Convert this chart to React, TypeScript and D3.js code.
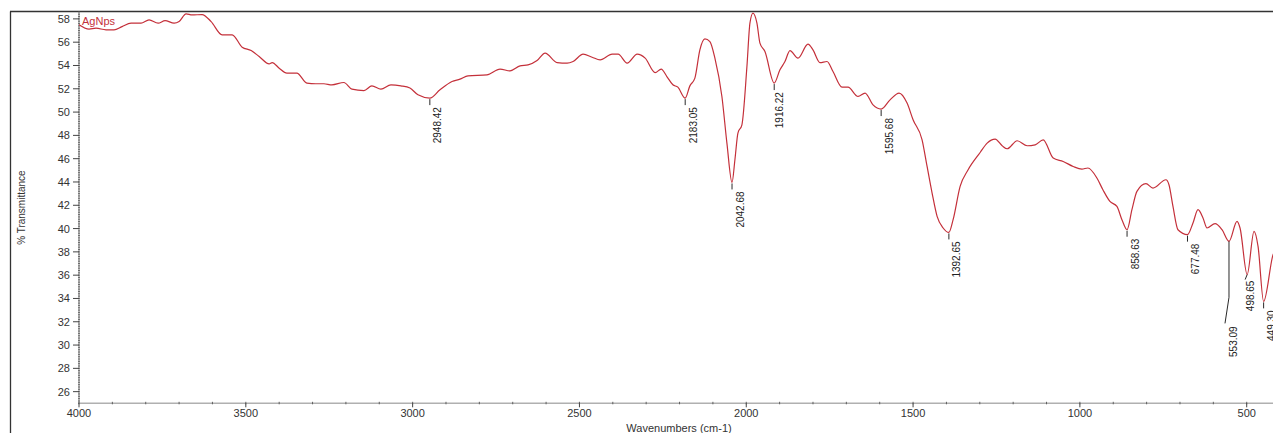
import React from "react";
import * as d3 from "d3";

// ---- data ----
const wavenumbers: number[] = [
  4000, 3970, 3949, 3919, 3895, 3871, 3844, 3814, 3790, 3763, 3742, 3715, 3700, 3679, 3661, 3631, 3604, 3571, 3541, 3511,
  3484, 3460, 3430, 3421, 3400, 3377, 3347, 3317, 3290, 3266, 3242, 3206, 3182, 3146, 3122, 3095, 3065, 3035, 3008, 2984,
  2948.42, 2918, 2882, 2858, 2834, 2777, 2738, 2708, 2678, 2654, 2627, 2603, 2567, 2537, 2519, 2489, 2462, 2438, 2402, 2384,
  2357, 2327, 2303, 2273, 2255, 2238, 2220, 2205, 2183.05, 2169, 2154, 2139, 2124, 2109, 2094, 2073, 2058, 2042.68, 2034, 2025,
  2013, 1998, 1989, 1980, 1968, 1959, 1944, 1916.22, 1899, 1884, 1869, 1845, 1815, 1800, 1779, 1758, 1740, 1713, 1695, 1665,
  1644, 1620, 1595.68, 1569, 1542, 1518, 1500, 1473, 1458, 1443, 1428, 1410, 1392.65, 1380, 1359, 1335, 1299, 1278, 1254, 1233,
  1218, 1188, 1158, 1134, 1110, 1080, 1050, 1020, 994, 976, 949, 931, 910, 889, 874, 858.63, 844, 829, 802, 781,
  742, 733, 721, 706, 677.48, 661, 646, 631, 619, 595, 574, 553.09, 529, 520, 498.65, 478, 466, 449.3, 421, 405,
];
const transmittance: number[] = [
  57.49, 57.12, 57.2, 57.06, 57.06, 57.34, 57.63, 57.63, 57.91, 57.63, 57.85, 57.63, 57.77, 58.43, 58.34, 58.37, 57.77, 56.63, 56.63, 55.57,
  55.28, 54.77, 54.14, 54.25, 53.77, 53.34, 53.34, 52.49, 52.43, 52.43, 52.34, 52.54, 51.97, 51.85, 52.25, 51.97, 52.34, 52.25, 52.06, 51.48,
  51.2, 51.91, 52.62, 52.83, 53.11, 53.2, 53.69, 53.54, 53.97, 54.05, 54.42, 55.06, 54.25, 54.2, 54.34, 54.97, 54.71, 54.48, 54.97, 54.97,
  54.2, 54.97, 54.63, 53.39, 53.69, 53.05, 52.34, 52.14, 51.2, 52.25, 52.91, 55.34, 56.28, 56.05, 54.63, 51.34, 47.34, 43.96, 45.91, 48.2,
  48.91, 53.91, 57.63, 58.49, 57.63, 55.92, 55.2, 52.49, 53.63, 54.34, 55.28, 54.63, 55.83, 55.34, 54.25, 54.34, 53.48, 52.14, 52.14, 51.34,
  51.63, 50.62, 50.26, 51.05, 51.63, 50.77, 49.34, 47.62, 45.33, 43.05, 41.05, 40.05, 39.67, 40.76, 43.62, 45.05, 46.53, 47.34, 47.68, 47.11,
  46.85, 47.54, 47.11, 47.19, 47.62, 46.05, 45.76, 45.33, 45.11, 45.2, 44.34, 43.33, 42.33, 41.9, 40.76, 39.9, 41.62, 43.19, 43.85, 43.48,
  44.19, 43.76, 41.9, 39.9, 39.48, 40.48, 41.62, 40.91, 40.05, 40.42, 39.9, 38.9, 40.62, 40.05, 36.05, 39.76, 38.47, 33.75, 37.76, 38.5,
];
const peakWavenumbers: number[] = [2948.42, 2183.05, 2042.68, 1916.22, 1595.68, 1392.65, 858.63, 677.48, 553.09, 498.65, 449.3];
const peakLabels: string[] = ["2948.42", "2183.05", "2042.68", "1916.22", "1595.68", "1392.65", "858.63", "677.48", "553.09", "498.65", "449.30"];
const yTicks: number[] = [26, 28, 30, 32, 34, 36, 38, 40, 42, 44, 46, 48, 50, 52, 54, 56, 58];
const xTicks: number[] = [4000, 3500, 3000, 2500, 2000, 1500, 1000, 500];
const seriesName = "AgNps";
const xTitle = "Wavenumbers (cm-1)";
const yTitle = "% Transmittance";

const W = 1273;
const H = 433;
const FONT = "Arial, 'Liberation Sans', sans-serif";
const RED = "#c4303a";

export default function App() {
  const left = 79;
  const top = 11.9;
  const bottom = 403.3;
  const x = d3.scaleLinear().domain([4000, 400]).range([left, left + 3600 * 0.33363]);
  const y = d3.scaleLinear().domain([25, 58.6]).range([bottom, top]);

  const pts: [number, number][] = wavenumbers.map((w, i) => [w, transmittance[i]]);
  const line = d3
    .line<[number, number]>()
    .x((d) => x(d[0]))
    .y((d) => y(d[1]))
    .curve(d3.curveMonotoneX);
  // monotoneX requires increasing x in pixel space: data sorted by decreasing wn -> increasing px
  const path = line(pts) || "";

  const yMinor = d3.range(25, 58.61, 0.2);
  const xMinor = d3.range(4000, 399, -100);

  const valueAt = (w: number) => {
    const i = wavenumbers.indexOf(w);
    return i >= 0 ? transmittance[i] : 0;
  };

  return (
    <svg
      width={W}
      height={H}
      style={{ position: "absolute", left: 0, top: 0, background: "#fff" }}
      xmlns="http://www.w3.org/2000/svg"
    >
      <defs>
        <clipPath id="plotclip">
          <rect x={left} y={top - 2} width={W - left} height={bottom - top + 2} />
        </clipPath>
      </defs>
      <rect x={0} y={0} width={W} height={H} fill="#fff" />
      {/* outer frame */}
      <line x1={10} y1={11.5} x2={W} y2={11.5} stroke="#333" strokeWidth={1.3} />
      <line x1={10.5} y1={11.5} x2={10.5} y2={H} stroke="#333" strokeWidth={1.3} />

      {/* y axis */}
      <line x1={left} y1={top} x2={left} y2={bottom} stroke="#b0b0b0" strokeWidth={1.6} />
      {yMinor.map((v, i) => (
        <line key={"ym" + i} x1={left - 1} x2={left + 1} y1={y(v)} y2={y(v)} stroke="#555" strokeWidth={0.8} />
      ))}
      {yTicks.map((v) => (
        <g key={"yt" + v}>
          <line x1={left - 6} x2={left} y1={y(v)} y2={y(v)} stroke="#444" strokeWidth={1} />
          <text x={left - 9} y={y(v)} dy="0.36em" textAnchor="end" fontFamily={FONT} fontSize={11} fill="#333">
            {v}
          </text>
        </g>
      ))}

      {/* x axis */}
      <line x1={left} y1={bottom} x2={W} y2={bottom} stroke="#b0b0b0" strokeWidth={1.6} />
      {xMinor.map((v) => (
        <line key={"xm" + v} x1={x(v)} x2={x(v)} y1={bottom - 1.5} y2={bottom + 1} stroke="#555" strokeWidth={0.9} />
      ))}
      {xTicks.map((v) => (
        <g key={"xt" + v}>
          <line x1={x(v)} x2={x(v)} y1={bottom} y2={bottom + 4} stroke="#444" strokeWidth={1} />
          <text x={x(v)} y={416.5} textAnchor="middle" fontFamily={FONT} fontSize={11} fill="#333">
            {v}
          </text>
        </g>
      ))}

      {/* titles */}
      <text x={679} y={432} textAnchor="middle" fontFamily={FONT} fontSize={11} fill="#333">
        {xTitle}
      </text>
      <text
        transform={`translate(24.5, ${(top + bottom) / 2}) rotate(-90)`}
        textAnchor="middle"
        fontFamily={FONT}
        fontSize={10}
        fill="#333"
      >
        {yTitle}
      </text>

      {/* spectrum */}
      <g clipPath="url(#plotclip)">
        <path d={path} fill="none" stroke={RED} strokeWidth={1.2} strokeLinejoin="round" />
      </g>

      {/* legend */}
      <text x={82} y={25} fontFamily={FONT} fontSize={11} fill={RED}>
        {seriesName}
      </text>

      {/* peak labels */}
      {peakWavenumbers.map((w, i) => {
        const px = x(w);
        const py = y(valueAt(w));
        let leader = `M${px},${py + 1}L${px},${py + 7}`;
        let ty = py + 9;
        let tx = px + 8;
        if (peakLabels[i] === "553.09") {
          leader = `M${px},${py}L${px},${py + 56}L${px - 4},${py + 82}`;
          ty = py + 85;
          tx = px + 4;
        } else if (peakLabels[i] === "498.65") {
          leader = `M${px},${py}L${px - 2},${py + 5}`;
          ty = py + 6;
          tx = px + 3;
        } else if (peakLabels[i] === "1916.22") {
          tx = px + 5;
        }
        return (
          <g key={"pk" + i}>
            <path d={leader} stroke="#111" strokeWidth={0.9} fill="none" />
            <text
              transform={`translate(${tx}, ${ty}) rotate(-90)`}
              textAnchor="end"
              dy="0.36em"
              fontFamily={FONT}
              fontSize={10}
              fill="#222"
            >
              {peakLabels[i]}
            </text>
          </g>
        );
      })}
    </svg>
  );
}
